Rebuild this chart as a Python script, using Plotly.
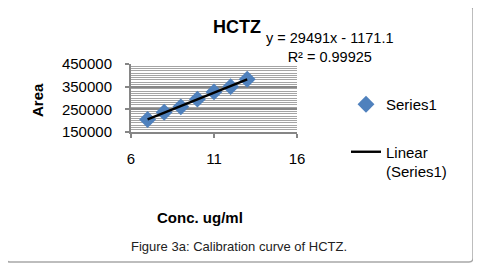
import numpy as np
import plotly.graph_objects as go

# ---- data ----
conc = [7, 8, 9, 10, 11, 12, 13]
area = [205000, 237000, 261000, 295000, 327000, 350000, 383000]
x_ticks = [6, 11, 16]
y_ticks = [150000, 250000, 350000, 450000]
title_text = "HCTZ"
eq_text = "y = 29491x - 1171.1<br>R² = 0.99925"
x_title = "Conc. ug/ml"
y_title = "Area"
caption = "Figure 3a: Calibration curve of HCTZ."

# linear trendline from the data
slope, intercept = np.polyfit(conc, area, 1)
trend_x = [min(conc), max(conc)]
trend_y = [slope * v + intercept for v in trend_x]

OFF = 8                      # page body margin offset
W, H = 481 - OFF, 271 - OFF
L, R, T, B = 131 - OFF, 297 - OFF, 64 - OFF, 132 - OFF   # plot area pixels


def px(x):
    return (x - OFF - L) / (R - L)


def py(y):
    return (B - (y - OFF)) / (B - T)


FONT = "Liberation Sans, Arial, sans-serif"

fig = go.Figure()
fig.add_trace(go.Scatter(
    x=conc, y=area, mode="markers", name="Series1",
    marker=dict(symbol="diamond", size=13, color="#4F81BD",
                line=dict(width=0)),
    legendgroup="a", cliponaxis=False,
))
fig.add_trace(go.Scatter(
    x=trend_x, y=trend_y, mode="lines", name="Linear<br>(Series1)",
    line=dict(color="black", width=2.4),
    legendgroup="b",
))

# rounded outer border
x0, x1 = px(6), px(473)
y0, y1 = py(262), py(6)
rx, ry = 4 / (R - L), 4 / (B - T)
path = (f"M {x0+rx},{y1} L {x1-rx},{y1} Q {x1},{y1} {x1},{y1-ry} "
        f"L {x1},{y0+ry} Q {x1},{y0} {x1-rx},{y0} L {x0+rx},{y0} "
        f"Q {x0},{y0} {x0},{y0+ry} L {x0},{y1-ry} Q {x0},{y1} {x0+rx},{y1} Z")
fig.add_shape(type="path", path=path, xref="paper", yref="paper",
              line=dict(color="#A8A8A8", width=1.5), layer="below")

fig.update_layout(
    width=W, height=H,
    margin=dict(l=L, r=W - R, t=T, b=H - B, pad=0, autoexpand=False),
    paper_bgcolor="white", plot_bgcolor="white",
    font=dict(family=FONT, size=15, color="black"),
    title=dict(text=title_text, x=(237 - OFF) / W, xref="container",
               xanchor="center", y=1 - (27 - OFF) / H, yref="container",
               yanchor="middle",
               font=dict(size=18, family=FONT, weight="bold", color="black")),
    showlegend=True,
    legend=dict(x=px(346), y=py(88), xanchor="left", yanchor="top",
                traceorder="grouped", tracegroupgap=25, valign="top",
                maxheight=400,
                font=dict(size=15, family=FONT, color="black"),
                bgcolor="rgba(0,0,0,0)"),
    xaxis=dict(range=[6, 16], tickvals=x_ticks, ticks="outside", ticklen=4,
               tickwidth=2, tickcolor="#868686", showgrid=False,
               showline=True, linecolor="#868686", linewidth=2,
               zeroline=False, ticklabelstandoff=8, automargin=False,
               tickfont=dict(size=15, family=FONT)),
    yaxis=dict(range=[150000, 450000], tickvals=y_ticks, tickformat="d",
               ticks="outside", ticklen=4, tickwidth=2, tickcolor="#868686",
               showgrid=True, gridcolor="#868686", gridwidth=2,
               showline=True, linecolor="#868686", linewidth=2,
               zeroline=False, ticklabelstandoff=10, automargin=False,
               minor=dict(dtick=10000, showgrid=True, gridcolor="#A4A4A4",
                          gridwidth=1.2, ticks=""),
               tickfont=dict(size=15, family=FONT)),
    annotations=[
        dict(text=eq_text, x=px(330), y=py(47), xref="paper", yref="paper",
             showarrow=False, xanchor="center", yanchor="middle",
             font=dict(size=14.5, family=FONT, color="black")),
        dict(text=f"<b>{y_title}</b>", x=px(37), y=py(100), xref="paper",
             yref="paper", showarrow=False, textangle=-90,
             xanchor="center", yanchor="middle",
             font=dict(size=15, family=FONT, color="black")),
        dict(text=f"<b>{x_title}</b>", x=px(200), y=py(217), xref="paper",
             yref="paper", showarrow=False, xanchor="center", yanchor="middle",
             font=dict(size=15, family=FONT, color="black")),
        dict(text=caption, x=px(239), y=py(246), xref="paper", yref="paper",
             showarrow=False, xanchor="center", yanchor="middle",
             font=dict(size=13, family=FONT, color="#222222")),
    ],
)

fig.write_html("out.html")
